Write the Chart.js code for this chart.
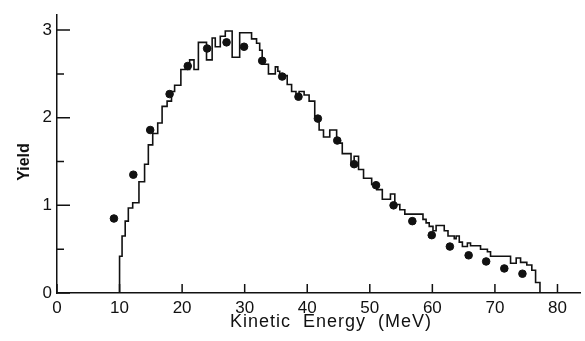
<!DOCTYPE html>
<html><head><meta charset="utf-8">
<script src="https://cdn.jsdelivr.net/npm/chart.js@4/dist/chart.umd.min.js"></script>
<style>html,body{margin:0;padding:0;background:#fff}#wrap{width:585px;height:341px;position:relative}</style>
</head><body><div id="wrap"><canvas id="c"></canvas></div>
<script>
// Histogram: bin left edges (last entry = right end of final bin) and bin heights
const histEdges = [10.0,10.4,10.9,11.4,12.1,13.1,14.0,14.6,15.3,16.1,16.8,17.6,18.3,18.8,19.8,21.2,21.9,22.6,23.9,24.8,25.3,26.1,26.9,28.0,29.2,31.1,31.9,32.4,32.8,33.8,34.9,35.3,35.6,36.8,37.5,38.2,38.7,39.5,40.3,41.2,41.9,42.6,43.6,44.7,45.6,47.0,47.5,48.2,49.0,50.3,51.1,52.0,53.3,54.0,54.8,55.6,58.5,59.0,59.5,60.1,60.6,61.9,62.5,63.5,63.8,64.3,64.8,65.6,66.1,67.7,68.8,69.3,72.5,73.4,74.1,75.1,75.9,76.5,77.2];
const histValues = [0.42,0.65,0.82,0.97,1.03,1.27,1.47,1.69,1.82,1.94,2.13,2.19,2.30,2.37,2.55,2.66,2.55,2.86,2.66,2.91,2.81,2.93,2.99,2.69,2.97,2.90,2.85,2.77,2.61,2.50,2.58,2.53,2.48,2.38,2.30,2.23,2.30,2.26,2.19,2.01,1.86,1.78,1.86,1.71,1.59,1.46,1.56,1.41,1.31,1.24,1.18,1.07,1.13,1.01,0.95,0.90,0.84,0.80,0.76,0.71,0.77,0.71,0.65,0.62,0.65,0.58,0.53,0.57,0.54,0.50,0.47,0.42,0.34,0.40,0.35,0.32,0.26,0.12];
// Measured points
const dotEnergy = [9.1,12.2,14.9,18.0,20.9,24.0,27.1,29.9,32.8,36.0,38.6,41.7,44.8,47.5,51.0,53.8,56.8,59.9,62.8,65.8,68.6,71.5,74.4];
const dotYield  = [0.85,1.35,1.86,2.27,2.59,2.79,2.86,2.81,2.65,2.47,2.24,1.99,1.74,1.47,1.23,1.00,0.82,0.66,0.53,0.43,0.36,0.28,0.22];
// Axis ticks
const xTicks = [0,10,20,30,40,50,60,70,80];
const yTicks = [0,1,2,3];
const yMinorTicks = [0.5,1.5,2.5];
const xTitle = 'Kinetic  Energy  (MeV)';
const yTitle = 'Yield';

const FONT = '"Liberation Sans", Arial, Helvetica, sans-serif';

const histPoints = [{x: histEdges[0], y: 0}];
histValues.forEach((v, i) => histPoints.push({x: histEdges[i], y: v}));
histPoints.push({x: histEdges[histEdges.length - 1], y: 0});

const dotPoints = dotEnergy.map((e, i) => ({x: e, y: dotYield[i]}));

const inwardTicks = {
  id: 'inwardTicks',
  afterDraw(chart) {
    const ctx = chart.ctx, xs = chart.scales.x, ys = chart.scales.y;
    const a = chart.chartArea;
    ctx.save();
    ctx.strokeStyle = '#111';
    ctx.lineWidth = 1.5;
    ctx.beginPath();
    xTicks.forEach(v => { const px = xs.getPixelForValue(v); ctx.moveTo(px, a.bottom); ctx.lineTo(px, a.bottom - 9); });
    yTicks.forEach(v => { const py = ys.getPixelForValue(v); ctx.moveTo(a.left, py); ctx.lineTo(a.left + 13, py); });
    yMinorTicks.forEach(v => { const py = ys.getPixelForValue(v); ctx.moveTo(a.left, py); ctx.lineTo(a.left + 7, py); });
    ctx.stroke();
    // axis titles
    ctx.fillStyle = '#111';
    ctx.font = '18px ' + FONT;
    ctx.textAlign = 'center';
    ctx.textBaseline = 'alphabetic';
    try { ctx.letterSpacing = '1px'; } catch(e) {}
    ctx.fillText(xTitle, 331, 327);
    ctx.translate(29, 162);
    ctx.rotate(-Math.PI / 2);
    ctx.font = 'bold 16px ' + FONT;
    try { ctx.letterSpacing = '0px'; } catch(e) {}
    ctx.fillText(yTitle, 0, 0);
    ctx.restore();
  }
};

new Chart(document.getElementById('c'), {
  type: 'scatter',
  data: {
    datasets: [
      {
        type: 'line',
        data: histPoints,
        stepped: 'before',
        borderColor: '#111',
        borderWidth: 1.6,
        pointRadius: 0,
        fill: false,
        order: 2
      },
      {
        type: 'scatter',
        data: dotPoints,
        backgroundColor: '#111',
        borderColor: '#111',
        pointRadius: 3.8,
        order: 1
      }
    ]
  },
  options: {
    responsive: true,
    maintainAspectRatio: false,
    animation: false,
    layout: { padding: { top: 12, right: 0, left: 0, bottom: 0 } },
    plugins: { legend: { display: false }, tooltip: { enabled: false } },
    scales: {
      x: {
        type: 'linear', min: 0, max: 83.6,
        afterBuildTicks: s => { s.ticks = xTicks.map(v => ({ value: v })); },
        afterFit: s => { s.height = 48; },
        grid: { display: false, drawTicks: false },
        border: { display: true, color: '#111', width: 1.5 },
        ticks: { color: '#111', font: { family: FONT, size: 17 }, padding: 5, maxRotation: 0, autoSkip: false }
      },
      y: {
        type: 'linear', min: 0, max: 3.17,
        afterBuildTicks: s => { s.ticks = yTicks.map(v => ({ value: v })); },
        afterFit: s => { s.width = 57; },
        grid: { display: false, drawTicks: false },
        border: { display: true, color: '#111', width: 1.5 },
        ticks: { color: '#111', font: { family: FONT, size: 17 }, padding: 5, autoSkip: false }
      }
    }
  },
  plugins: [inwardTicks]
});
</script>
</body></html>
